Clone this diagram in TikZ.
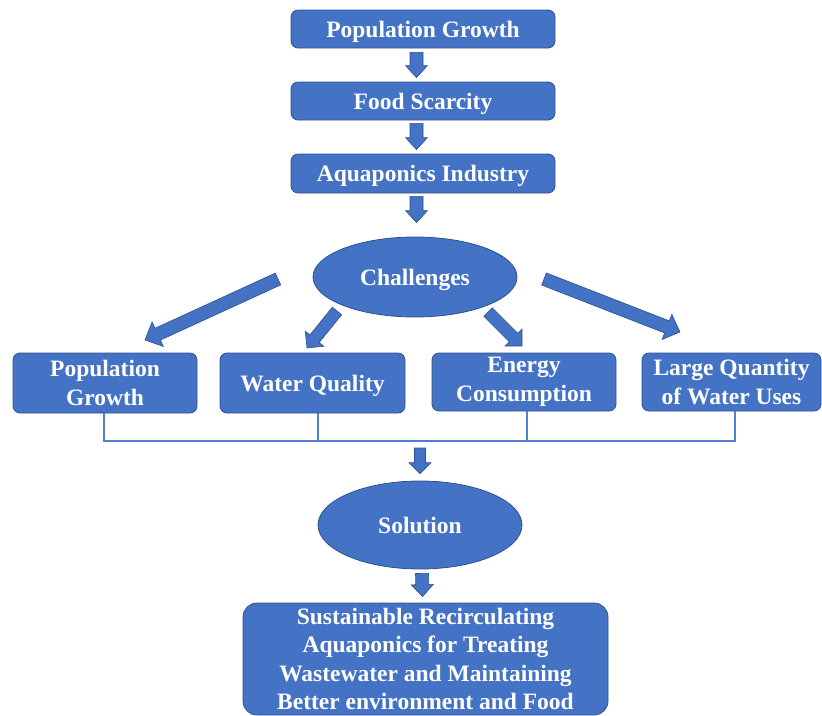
\documentclass[tikz,border=0pt]{standalone}
\usepackage{fontspec}
\setmainfont{Liberation Serif}
\usetikzlibrary{shapes.geometric,calc}
\definecolor{myblue}{HTML}{4472C4}
\definecolor{myborder}{HTML}{2F528F}
\definecolor{busblue}{HTML}{4F7FD2}
\tikzset{
  blockarrow/.style={draw=myborder, fill=myblue, line width=0.6pt, line join=miter},
  box/.style={rectangle, rounded corners=7pt, draw=myborder, fill=myblue, line width=0.8pt,
    text=white, font=\bfseries\fontsize{23.5}{28.5}\selectfont, align=center, inner sep=0pt},
  oval/.style={ellipse, draw=myborder, fill=myblue, line width=0.8pt,
    text=white, font=\bfseries\fontsize{23.5}{28.5}\selectfont, inner sep=0pt, text depth=0pt},
  oneline/.style={text depth=0pt},
  bus/.style={draw=busblue, line width=2pt},
}
% #1 from, #2 to, #3 shaft half width, #4 head half width, #5 head length
\newcommand\myblockarrow[5]{%
  \path[blockarrow] let \p1=(#1), \p2=(#2),
    \n1={atan2(\y2-\y1,\x2-\x1)}, \n2={veclen(\x2-\x1,\y2-\y1)-#5pt} in
    ($(\p1)+({\n1+90}:#3pt)$) --
    ($(\p1)+({\n1}:{\n2})+({\n1+90}:#3pt)$) --
    ($(\p1)+({\n1}:{\n2})+({\n1+90}:#4pt)$) --
    (\p2) --
    ($(\p1)+({\n1}:{\n2})+({\n1-90}:#4pt)$) --
    ($(\p1)+({\n1}:{\n2})+({\n1-90}:#3pt)$) --
    ($(\p1)+({\n1-90}:#3pt)$) -- cycle;}
\begin{document}
\begin{tikzpicture}[x=1pt,y=-1pt]
\useasboundingbox (0,0) rectangle (822,715);

% top chain
\node[box, oneline, minimum width=264pt, minimum height=38pt] (pg1) at (423,29) {Population Growth};
\node[box, oneline, minimum width=264pt, minimum height=38pt] (fs) at (423,101) {Food Scarcity};
\node[box, oneline, minimum width=264pt, minimum height=39pt] (ai) at (423,173.5) {Aquaponics Industry};
\node[oval, minimum width=204pt, minimum height=80pt] (ch) at (415,277) {Challenges};

% challenges
\node[box, minimum width=184pt, minimum height=60pt] (pg2) at (105,383) {Population\\Growth};
\node[box, oneline, minimum width=185pt, minimum height=60pt] (wq) at (312.5,383) {Water Quality};
\node[box, minimum width=184pt, minimum height=58pt] (ec) at (524,382) {Energy\\Consumption};
\node[box, minimum width=179pt, minimum height=58pt] (lq) at (731.5,382) {Large Quantity\\of Water Uses};

% solution
\node[oval, minimum width=204pt, minimum height=88pt] (sol) at (420,525) {Solution};
\node[box, rounded corners=14pt, minimum width=365pt, minimum height=112pt] (fin) at (425.5,659)
  {Sustainable Recirculating\\Aquaponics for Treating\\Wastewater and Maintaining\\Better environment and Food};

% bus lines
\coordinate (busy) at (0,441);
\coordinate (t1) at ([xshift=-1pt]pg2.south);
\coordinate (t2) at ([xshift=5.5pt]wq.south);
\coordinate (t3) at ([xshift=3pt]ec.south);
\coordinate (t4) at ([xshift=3.5pt]lq.south);
\draw[bus] (t1) |- (t4 |- busy) -- (t4);
\draw[bus] (t2) -- (t2 |- busy);
\draw[bus] (t3) -- (t3 |- busy);

% arrow end points
\coordinate (a1s) at ([xshift=-6.5pt,yshift=-4pt]pg1.south);
\coordinate (a1e) at ([xshift=-6.5pt,yshift=4pt]fs.north);
\coordinate (a2s) at ([xshift=-6.5pt,yshift=-3pt]fs.south);
\coordinate (a2e) at ([xshift=-6.5pt,yshift=4pt]ai.north);
\coordinate (a3s) at ([xshift=-6.5pt,yshift=-3pt]ai.south);
\coordinate (a3e) at ([xshift=1.5pt,yshift=14pt]ch.north);
\coordinate (d1s) at (278,279);
\coordinate (d1e) at (145,340);
\coordinate (d2s) at (337,311);
\coordinate (d2e) at (307,348);
\coordinate (d3s) at (488,312);
\coordinate (d3e) at (522,346);
\coordinate (d4s) at (544,279);
\coordinate (d4e) at (680,332);
\coordinate (m1s) at (420,448);
\coordinate (m1e) at ([yshift=7pt]sol.north);
\coordinate (b1s) at ([xshift=2pt,yshift=-4pt]sol.south);
\coordinate (b1e) at ([xshift=-3pt,yshift=6pt]fin.north);

\myblockarrow{a1s}{a1e}{6.5}{11}{12}
\myblockarrow{a2s}{a2e}{6.5}{11}{12}
\myblockarrow{a3s}{a3e}{6.5}{11}{12}
\myblockarrow{d1s}{d1e}{6.5}{13.5}{14}
\myblockarrow{d2s}{d2e}{6}{12}{12}
\myblockarrow{d3s}{d3e}{6}{12}{12}
\myblockarrow{d4s}{d4e}{6.5}{13.5}{14}
\myblockarrow{m1s}{m1e}{5.5}{11}{11}
\myblockarrow{b1s}{b1e}{6.5}{11}{12}
\end{tikzpicture}
\end{document}
